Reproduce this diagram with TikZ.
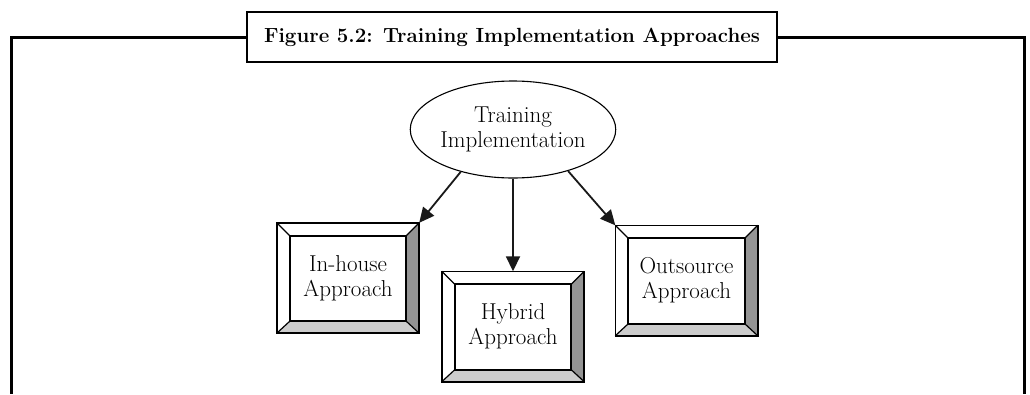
\documentclass[tikz,border=0pt]{standalone}
\usepackage{fontspec}
\usepackage{tikz}
\usetikzlibrary{positioning, arrows.meta, calc, shapes.geometric}

% bevelled frame round a box node
\newcommand{\bevelframe}[1]{%
  \coordinate (#1-a) at ($(#1.north west)+(13,13)$);
  \coordinate (#1-b) at ($(#1.north east)+(-13,13)$);
  \coordinate (#1-c) at ($(#1.south east)+(-13,-12)$);
  \coordinate (#1-d) at ($(#1.south west)+(13,-12)$);
  \fill[black!42] (#1.north east) -- (#1.south east) -- (#1-c) -- (#1-b) -- cycle;
  \fill[black!20] (#1.south west) -- (#1.south east) -- (#1-c) -- (#1-d) -- cycle;
  \draw[line width=1.2pt] (#1.north west) -- (#1-a) (#1.north east) -- (#1-b)
    (#1.south east) -- (#1-c) (#1.south west) -- (#1-d);
  \draw[line width=2pt] (#1-a) rectangle (#1-c);
  \draw[line width=1.6pt] (#1.north west) rectangle (#1.south east);
}

\begin{document}
\begin{tikzpicture}[x=1pt, y=-1pt, >={Triangle[length=15pt,width=14pt]},
    txt/.style={font=\fontsize{23}{25}\selectfont, align=center},
    titlebox/.style={draw, line width=2.6pt, fill=white, minimum width=530pt,
      minimum height=50pt, inner sep=0pt, font=\fontsize{20.5}{24}\selectfont\bfseries},
    bevel/.style={txt, minimum width=142pt, minimum height=110pt, inner sep=0pt},
    hub/.style={txt, ellipse, draw, line width=1.1pt, minimum width=202pt,
      minimum height=97pt, inner sep=0pt}]
  \useasboundingbox (0,0) rectangle (1030,394);

  \node[titlebox] (title) at (512,37) {Figure 5.2: Training Implementation Approaches};
  \draw[line width=3pt] (title.west) -- (11,37) -- (11,394);
  \draw[line width=3pt] (title.east) -- (1024,37) -- (1024,394);

  \node[hub] (ti) at (513,129.5) {Training\\Implementation};

  \node[bevel] (inh) at (348,278) {In-house\\Approach};
  \node[bevel] (hyb) at (513,326.5) {Hybrid\\Approach};
  \node[bevel] (out) at (686.5,280.5) {Outsource\\Approach};
  \bevelframe{inh}
  \bevelframe{hyb}
  \bevelframe{out}

  \path[->, line width=1.8pt, black!90]
    (ti.219) edge (inh.north east)
    (ti.south) edge (hyb.north)
    (ti.323) edge (out.north west);
\end{tikzpicture}
\end{document}
